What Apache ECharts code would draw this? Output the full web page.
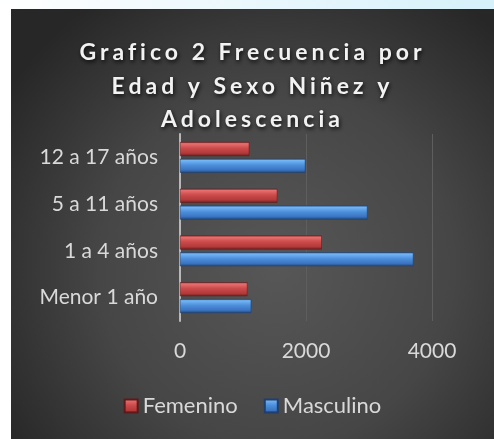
<!DOCTYPE html>
<html>
<head>
<meta charset="utf-8">
<script src="https://cdn.jsdelivr.net/npm/echarts@6/dist/echarts.min.js"></script>
<style>
  html, body { margin: 0; padding: 0; width: 494px; height: 439px; overflow: hidden; background: #ffffff; }
  #topstrip { position: absolute; left: 0; top: 0; width: 494px; height: 9px; background: linear-gradient(90deg, #ffffff 0%, #eef9fd 40%, #d6f1fa 100%); }
  #chart { position: absolute; left: 11px; top: 9px; width: 483px; height: 430px; }
</style>
</head>
<body>
<div id="topstrip"></div>
<div id="chart"></div>
<script>
// ---- data ----
const titleText = 'Grafico 2 Frecuencia por\nEdad y Sexo Niñez y\nAdolescencia';
const categories = ['Menor 1 año', '1 a 4 años', '5 a 11 años', '12 a 17 años'];
const seriesNames = ['Femenino', 'Masculino'];
const femenino = [1070, 2250, 1545, 1100];
const masculino = [1130, 3705, 2975, 1990];
const xTicks = [0, 2000, 4000];

// wider letter spacing for the bold title (as in the reference)
const origFill = CanvasRenderingContext2D.prototype.fillText;
CanvasRenderingContext2D.prototype.fillText = function (t, x, y, m) {
  if ('letterSpacing' in this) {
    this.letterSpacing = (this.font.indexOf('bold') >= 0) ? '4px' : '0px';
  }
  return m === undefined ? origFill.call(this, t, x, y) : origFill.call(this, t, x, y, m);
};

const FONT = 'Lato, "Open Sans", sans-serif';

function grad(stops) {
  return new echarts.graphic.LinearGradient(0, 0, 0, 1, stops);
}
const redFill = grad([
  { offset: 0, color: '#8e2f2f' },
  { offset: 0.12, color: '#e87070' },
  { offset: 0.45, color: '#cc4a4a' },
  { offset: 0.8, color: '#b23a3a' },
  { offset: 1, color: '#6e1f1f' }
]);
const blueFill = grad([
  { offset: 0, color: '#2f5f9a' },
  { offset: 0.12, color: '#74b6f4' },
  { offset: 0.45, color: '#4d8fdc' },
  { offset: 0.8, color: '#3a74c0' },
  { offset: 1, color: '#21477a' }
]);

const chart = echarts.init(document.getElementById('chart'), null, { renderer: 'canvas' });
chart.setOption({
  animation: false,
  backgroundColor: new echarts.graphic.RadialGradient(0.55, 0.6, 0.75, [
    { offset: 0, color: '#575757' },
    { offset: 0.55, color: '#464646' },
    { offset: 1, color: '#272727' }
  ]),
  title: {
    text: titleText,
    left: 'center',
    top: 22,
    textStyle: {
      color: '#f2f2f2',
      fontFamily: FONT,
      fontWeight: 'bold',
      fontSize: 23,
      lineHeight: 33.5,
      textShadowColor: 'rgba(0,0,0,0.85)',
      textShadowBlur: 4,
      textShadowOffsetX: 1,
      textShadowOffsetY: 2
    }
  },
  legend: {
    data: seriesNames,
    bottom: 17,
    left: 'center',
    itemWidth: 13,
    itemHeight: 13,
    itemGap: 26,
    icon: 'rect',
    textStyle: { color: '#d9d9d9', fontFamily: FONT, fontSize: 22, padding: [0, 0, 0, 0] }
  },
  grid: { left: 169, right: 62, top: 125, bottom: 118, containLabel: false },
  xAxis: {
    type: 'value',
    min: xTicks[0],
    max: xTicks[xTicks.length - 1],
    interval: xTicks[1] - xTicks[0],
    axisLine: { show: false },
    axisTick: { show: false },
    axisLabel: { color: '#d9d9d9', fontFamily: FONT, fontSize: 21, margin: 20, formatter: function (v) { return String(v); } },
    splitLine: { show: true, lineStyle: { color: '#5e5e5e', width: 1 } }
  },
  yAxis: {
    type: 'category',
    data: categories,
    axisLine: { show: true, lineStyle: { color: '#b8b8b8', width: 2 } },
    axisTick: { show: false },
    axisLabel: { color: '#d9d9d9', fontFamily: FONT, fontSize: 21, margin: 22 },
    splitLine: { show: false }
  },
  series: [
    {
      name: seriesNames[0],
      type: 'bar',
      data: femenino,
      barWidth: 14,
      barGap: '20%',
      itemStyle: { color: redFill, borderColor: '#5e1a1a', borderWidth: 0.5 }
    },
    {
      name: seriesNames[1],
      type: 'bar',
      data: masculino,
      barWidth: 14,
      barGap: '20%',
      itemStyle: { color: blueFill, borderColor: '#1f3f6e', borderWidth: 0.5 }
    }
  ]
});
</script>
</body>
</html>
